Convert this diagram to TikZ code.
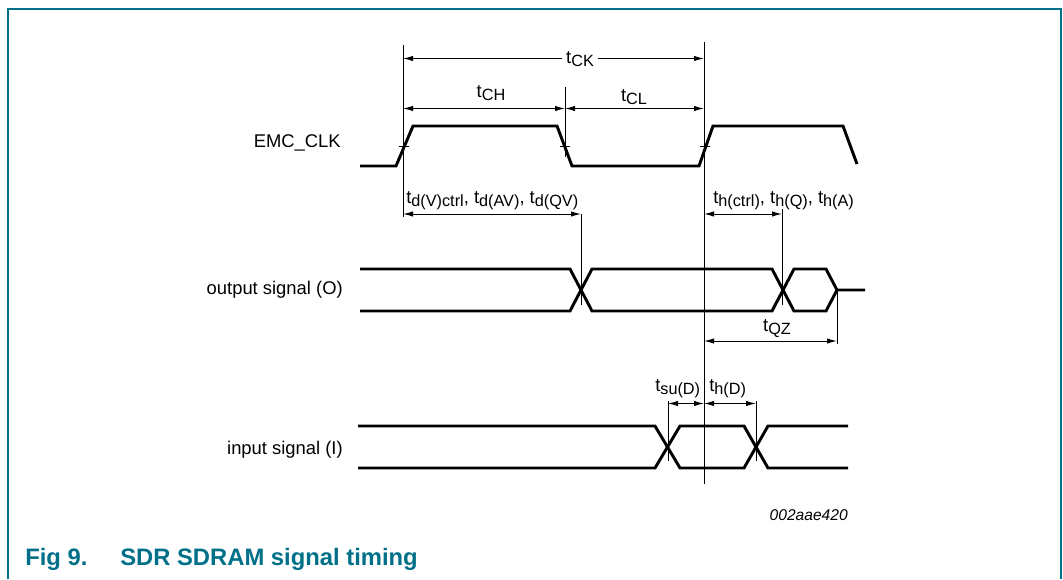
\documentclass[tikz,border=0pt]{standalone}
\usepackage{fontspec}
\setmainfont{Liberation Sans}
\usetikzlibrary{arrows.meta}
\definecolor{nxpteal}{RGB}{0,112,136}
\newcommand{\sbs}[1]{\raisebox{-2.4pt}{\fontsize{12.2}{14}\selectfont #1}}
\begin{document}
\begin{tikzpicture}[x=0.75pt,y=-0.75pt,
  sig/.style={line width=2.2pt},
  thinln/.style={line width=0.75pt},
  dimarr/.style={thinln,{Latex[length=7.5pt,width=4pt]}-{Latex[length=7.5pt,width=4pt]}},
  rarr/.style={thinln,-{Latex[length=7.5pt,width=4pt]}},
  larr/.style={thinln,{Latex[length=7.5pt,width=4pt]}-},
  lbl/.style={font=\fontsize{13.8}{16}\selectfont, inner sep=0pt},
  frame/.style={draw=nxpteal,line width=1.3pt}]
\useasboundingbox (0,0) rectangle (1063,579);
% frame
\draw[frame] (8,579) -- (8,9) -- (1061,9) -- (1061,579);

% vertical reference lines
\coordinate (v1t) at (403,45);   \coordinate (v1b) at (403,217);
\coordinate (v2t) at (565,87);   \coordinate (v2b) at (565,157);
\coordinate (v3t) at (704,42);   \coordinate (v3b) at (704,484);
\coordinate (v4t) at (581,214);  \coordinate (v4b) at (581,305);
\coordinate (v5t) at (782,209);  \coordinate (v5b) at (782,305);
\coordinate (v6t) at (837,290);  \coordinate (v6b) at (837,344);
\coordinate (v7t) at (668,401);  \coordinate (v7b) at (668,461);
\coordinate (v8t) at (756,401);  \coordinate (v8b) at (756,461);
\foreach \a in {1,...,8} {\draw[thinln] (v\a t) -- (v\a b);}

% clock
\draw[sig] (360,166) -- (396,166) -- (413,126) -- (557,126) -- (572,166)
  -- (699,166) -- (713,126) -- (843,126) -- (857,164);
\foreach \x in {404,565,705} {\draw[thinln] (\x-5,146.5) -- (\x+5,146.5);}

% output signal
\draw[sig] (360,269) -- (570,269) -- (592,311) -- (772,311) -- (794,269)
  -- (826,269) -- (837,290) -- (865,290);
\draw[sig] (360,311) -- (570,311) -- (592,269) -- (772,269) -- (794,311)
  -- (826,311) -- (837,290);

% input signal
\draw[sig] (358,426) -- (655,426) -- (680,468) -- (744,468) -- (768,426) -- (848,426);
\draw[sig] (358,468) -- (655,468) -- (680,426) -- (744,426) -- (768,468) -- (848,468);

% signal names
\node[lbl,anchor=east] (nclk) at (341,143) {EMC\_CLK};
\node[lbl,anchor=east] (nout) at (343,290) {output signal (O)};
\node[lbl,anchor=east] (nin) at (343,450) {input signal (I)};

% tCK
\node[lbl,inner xsep=3pt,anchor=base] (tck) at (580,63) {t\sbs{CK}};
\coordinate (ck1) at (403,58.5); \coordinate (ck2) at (704,58.5);
\draw[larr] (ck1) -- (tck.west |- ck1);
\draw[rarr] (tck.east |- ck2) -- (ck2);

% tCH, tCL
\coordinate (ch1) at (403,108.5); \coordinate (ch2) at (565,108.5); \coordinate (ch3) at (704,108.5);
\draw[dimarr] (ch1) -- (ch2);
\draw[dimarr] (ch2) -- (ch3);
\node[lbl,anchor=base] (tch) at (491,97) {t\sbs{CH}};
\node[lbl,anchor=base] (tcl) at (634,101) {t\sbs{CL}};

% td
\coordinate (td1) at (403,214); \coordinate (td2) at (581,214);
\draw[dimarr] (td1) -- (td2);
\node[lbl,anchor=base west] (tdl) at (406,203) {t\sbs{d(V)ctrl}, t\sbs{d(AV)}, t\sbs{d(QV)}};

% th
\coordinate (th1) at (704,214); \coordinate (th2) at (782,214);
\draw[dimarr] (th1) -- (th2);
\node[lbl,anchor=base west] (thl) at (713,203) {t\sbs{h(ctrl)}, t\sbs{h(Q)}, t\sbs{h(A)}};

% tQZ
\coordinate (qz1) at (704,341); \coordinate (qz2) at (837,341);
\draw[dimarr] (qz1) -- (qz2);
\node[lbl,anchor=base] (tqz) at (777,331) {t\sbs{QZ}};

% tsu, th(D)
\coordinate (su1) at (668,403.5); \coordinate (su2) at (704,403.5); \coordinate (su3) at (756,403.5);
\draw[dimarr] (su1) -- (su2);
\draw[dimarr] (su2) -- (su3);
\node[lbl,anchor=base west] (tsul) at (655,391) {t\sbs{su(D)}};
\node[lbl,anchor=base west] (thdl) at (709,391) {t\sbs{h(D)}};

% figure id
\node[font=\fontsize{11.7}{14}\selectfont\itshape,inner sep=0pt,anchor=base east] (fid) at (848,520) {002aae420};

% caption
\node[font=\fontsize{17.85}{20}\selectfont\bfseries,text=nxpteal,inner sep=0pt,anchor=base west] (fig) at (25,565) {Fig 9.};
\node[font=\fontsize{17.85}{20}\selectfont\bfseries,text=nxpteal,inner sep=0pt,anchor=base west] (cap) at (120,565) {SDR SDRAM signal timing};
\end{tikzpicture}
\end{document}
